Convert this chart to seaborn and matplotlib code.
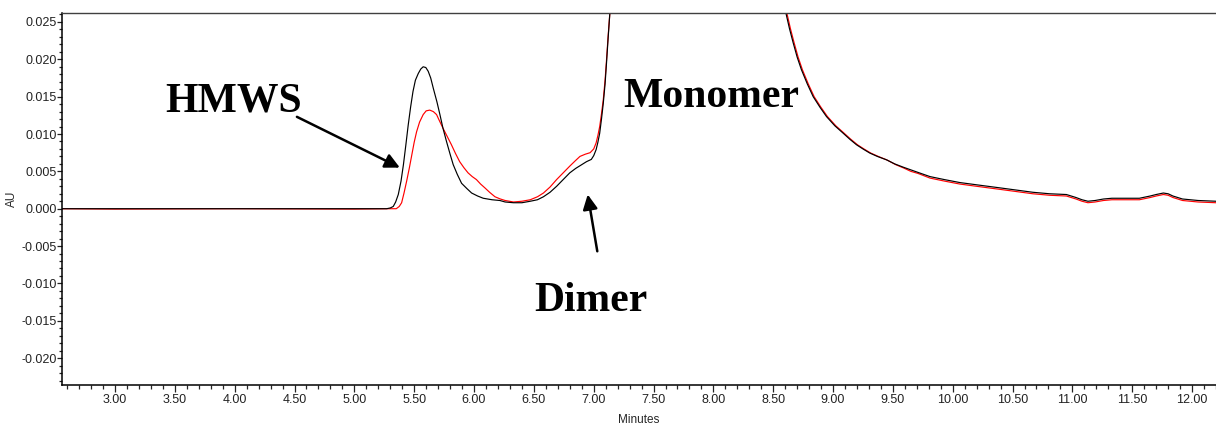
import numpy as np
import pandas as pd
import matplotlib
matplotlib.use('Agg')
import matplotlib.pyplot as plt
import seaborn as sns
from matplotlib.ticker import MultipleLocator, FormatStrFormatter

# =============================================================================
# Data (minutes, AU)
# =============================================================================

# black trace
black_min = [2.55, 3.00, 4.00, 5.00, 5.27, 5.30, 5.325, 5.345, 5.367, 5.39, 5.41, 5.43,
             5.45, 5.47, 5.49, 5.51, 5.534, 5.555, 5.575, 5.597, 5.617, 5.638, 5.66,
             5.69, 5.715, 5.74, 5.77, 5.80, 5.826, 5.86, 5.896, 5.94, 5.98, 6.03,
             6.077, 6.15, 6.216, 6.26, 6.33, 6.40, 6.47, 6.53, 6.58, 6.635, 6.69,
             6.745, 6.80, 6.85, 6.90, 6.94, 6.98, 7.00, 7.02, 7.035, 7.05, 7.065,
             7.08, 7.095, 7.107, 7.12, 7.135, 7.25, 7.80, 8.45, 8.606, 8.636, 8.667,
             8.70, 8.736, 8.785, 8.834, 8.89, 8.945, 9.015, 9.085, 9.14, 9.196, 9.25,
             9.307, 9.37, 9.446, 9.515, 9.585, 9.65, 9.71, 9.81, 9.93, 10.06, 10.2,
             10.39, 10.53, 10.67, 10.81, 10.95, 11.03, 11.08, 11.13, 11.19, 11.26,
             11.33, 11.40, 11.48, 11.56, 11.65, 11.70, 11.76, 11.80, 11.84, 11.88,
             11.92, 12.05, 12.2]
black_au = [0.0, 0.0, 0.0, 0.0, 0.0, 0.0001, 0.0003, 0.0009, 0.0019, 0.0037, 0.0059, 0.0085,
            0.0112, 0.0136, 0.0157, 0.0172, 0.0181, 0.0187, 0.0190, 0.0189, 0.0184, 0.0175, 0.0161,
            0.0143, 0.0126, 0.0108, 0.0090, 0.0073, 0.0059, 0.0046, 0.0034, 0.0027, 0.0021, 0.0017,
            0.0014, 0.0012, 0.0011, 0.0009, 0.0008, 0.0008, 0.0010, 0.0012, 0.0016, 0.0022, 0.0030,
            0.0039, 0.0048, 0.0054, 0.0059, 0.0063, 0.0066, 0.0071, 0.0079, 0.0089, 0.0101, 0.0120,
            0.0141, 0.0167, 0.0195, 0.0227, 0.0262, 0.10, 0.60, 0.10, 0.0262, 0.0241, 0.0222,
            0.0203, 0.0186, 0.0167, 0.0150, 0.0136, 0.01234, 0.0111, 0.0101, 0.0093, 0.00856, 0.0080,
            0.00745, 0.0070, 0.00655, 0.0060, 0.00557, 0.0052, 0.00486, 0.0043, 0.0039, 0.0035, 0.0032,
            0.0028, 0.0025, 0.0022, 0.0020, 0.0019, 0.0015, 0.0012, 0.0010, 0.0011, 0.0013,
            0.0014, 0.0014, 0.0014, 0.0014, 0.0017, 0.0019, 0.0021, 0.0020, 0.0017, 0.0015,
            0.0013, 0.0011, 0.0010]

# red trace
red_min = [2.55, 3.00, 4.00, 5.00, 5.30, 5.35, 5.375, 5.395, 5.415, 5.437, 5.46, 5.48,
           5.50, 5.52, 5.545, 5.575, 5.60, 5.63, 5.66, 5.687, 5.71, 5.74, 5.775, 5.81,
           5.845, 5.88, 5.915, 5.95, 5.985, 6.02, 6.055, 6.09, 6.13, 6.175, 6.22, 6.26,
           6.33, 6.40, 6.47, 6.53, 6.58, 6.635, 6.69, 6.745, 6.80, 6.845, 6.885, 6.93,
           6.97, 7.00, 7.02, 7.035, 7.05, 7.065, 7.08, 7.095, 7.107, 7.12, 7.135, 7.25,
           7.80, 8.45, 8.614, 8.644, 8.675, 8.708, 8.744, 8.793, 8.842, 8.898, 8.953,
           9.023, 9.093, 9.148, 9.204, 9.258, 9.315, 9.378, 9.454, 9.523, 9.59, 9.65,
           9.71, 9.81, 9.93, 10.06, 10.2, 10.39, 10.53, 10.67, 10.81, 10.95, 11.03,
           11.08, 11.13, 11.19, 11.26, 11.33, 11.40, 11.48, 11.56, 11.65, 11.70, 11.76,
           11.80, 11.84, 11.88, 11.92, 12.05, 12.2]
red_au = [0.0, -0.00005, 0.0, -0.00005, 0.0, 0.0, 0.0003, 0.0008, 0.0021, 0.0037, 0.0055, 0.0072,
          0.0089, 0.0103, 0.0116, 0.0126, 0.0131, 0.0132, 0.0130, 0.0126, 0.0118, 0.0108, 0.0097, 0.0086,
          0.0074, 0.0063, 0.0055, 0.0048, 0.0043, 0.0039, 0.0033, 0.0028, 0.0022, 0.0016, 0.0013, 0.0011,
          0.0009, 0.0010, 0.0012, 0.0016, 0.0021, 0.0029, 0.0039, 0.0048, 0.0057, 0.0064, 0.0070, 0.0073,
          0.0075, 0.0080, 0.0088, 0.0098, 0.0110, 0.0127, 0.0146, 0.0172, 0.0199, 0.0230, 0.0262, 0.10,
          0.60, 0.10, 0.0262, 0.0241, 0.0222, 0.0203, 0.0186, 0.0167, 0.0150, 0.0136, 0.01234,
          0.0111, 0.0101, 0.0093, 0.00856, 0.0080, 0.00745, 0.0070, 0.00650, 0.0059, 0.00545, 0.0050,
          0.00472, 0.0041, 0.0037, 0.0033, 0.0030, 0.0026, 0.0023, 0.0020, 0.0018, 0.0017, 0.0013,
          0.0010, 0.0008, 0.0009, 0.0011, 0.0012, 0.0012, 0.0012, 0.0012, 0.0015, 0.0017, 0.0019,
          0.0018, 0.0015, 0.0013, 0.0011, 0.0009, 0.0008]

black_df = pd.DataFrame({'Minutes': black_min, 'AU': black_au})
red_df = pd.DataFrame({'Minutes': red_min, 'AU': red_au})

# =============================================================================
# Plot
# =============================================================================

sns.set_style('ticks')
plt.rcParams['font.family'] = ['Liberation Sans Narrow', 'Liberation Sans', 'DejaVu Sans']

fig = plt.figure(figsize=(12.16, 4.25), dpi=100)
ax = fig.add_axes([62 / 1216, 40 / 425, 1 - 62 / 1216, 372 / 425])

sns.lineplot(data=red_df, x='Minutes', y='AU', color='#ff0000', linewidth=0.85, ax=ax)
sns.lineplot(data=black_df, x='Minutes', y='AU', color='black', linewidth=0.85, ax=ax)

ax.set_xlim(2.557, 12.2)
ax.set_ylim(-0.0236, 0.0262)

ax.xaxis.set_major_locator(MultipleLocator(0.5))
ax.xaxis.set_minor_locator(MultipleLocator(0.1))
ax.xaxis.set_major_formatter(FormatStrFormatter('%.2f'))
ax.yaxis.set_major_locator(MultipleLocator(0.005))
ax.yaxis.set_minor_locator(MultipleLocator(0.001))
ax.yaxis.set_major_formatter(FormatStrFormatter('%.3f'))

ax.tick_params(axis='x', which='major', length=5, width=0.9, pad=1.5, labelsize=9, colors='#222222')
ax.tick_params(axis='x', which='minor', length=3, width=0.9)
ax.tick_params(axis='y', which='major', length=3.5, width=0.9, pad=0.5, labelsize=9, colors='#222222')
ax.tick_params(axis='y', which='minor', length=2, width=0.9)

for side in ['left', 'bottom']:
    ax.spines[side].set_color('black')
    ax.spines[side].set_linewidth(1.1)
ax.spines['top'].set_visible(True)
ax.spines['top'].set_color('#404040')
ax.spines['top'].set_linewidth(1.0)
ax.spines['right'].set_visible(False)

ax.set_xlabel('Minutes', fontsize=8.5, labelpad=6)
ax.set_ylabel('AU', fontsize=8.5, labelpad=2)

# peak labels
label_font = dict(fontsize=30, fontweight='bold', family='Liberation Serif', color='black')
ax.text(3.994, 0.01297, 'HMWS', ha='center', va='baseline', **label_font)
ax.text(7.983, 0.01368, 'Monomer', ha='center', va='baseline', **label_font)
ax.text(6.977, -0.01373, 'Dimer', ha='center', va='baseline', **label_font)

arrow = dict(arrowstyle='-|>', lw=1.8, color='black', mutation_scale=22, shrinkA=0, shrinkB=0)
ax.annotate('', xy=(5.38, 0.0055), xytext=(4.52, 0.0123), arrowprops=arrow)
ax.annotate('', xy=(6.95, 0.0019), xytext=(7.03, -0.0057), arrowprops=arrow)

plt.savefig('out.png', dpi=100)
